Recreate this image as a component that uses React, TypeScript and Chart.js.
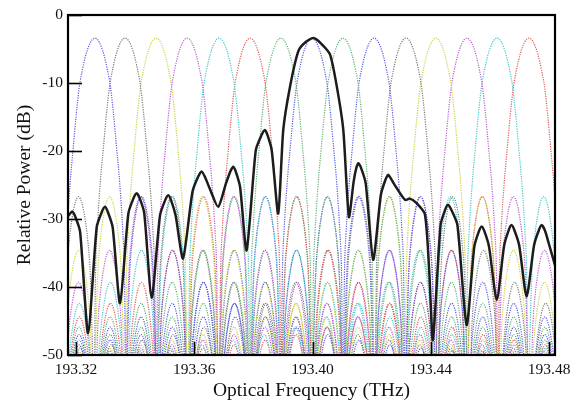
import React, { useEffect, useRef } from "react";
import { Chart, registerables } from "chart.js";

Chart.register(...registerables);

// ---------- axes ----------
const X_MIN = 193.3173;
const X_MAX = 193.482;
const Y_MIN = -50;
const Y_MAX = 0;
const xTickValues = [193.32, 193.36, 193.4, 193.44, 193.48];
const yTickValues = [-50, -40, -30, -20, -10, 0];

// ---------- channel spectra (dotted) ----------
const channelCentersTHz = [
  193.3264, 193.3366, 193.3471, 193.3576, 193.3684, 193.3789, 193.3893, 193.3998,
  193.4103, 193.4208, 193.4316, 193.4417, 193.4522, 193.4624, 193.4732,
];
const channelColors = [
  "#5a5ae0", "#7a7a7a", "#cfcf48", "#bb5ccf", "#45c6c6", "#de5a5a", "#62b077", "#5a5ae0",
  "#62b077", "#5a5ae0", "#7a7a7a", "#cfcf48", "#bb5ccf", "#45c6c6", "#de5a5a",
];
const channelSpacingGHz = 10.5;
// main lobe: offset from the channel centre (GHz) -> power (dB)
const mainLobeOffsetGHz = [0, 1.05, 2.1, 3.15, 4.2, 5.25, 6.3, 7.35, 8.4, 9.45, 10.0];
const mainLobePowerDb = [-3.4, -3.7, -4.6, -6.0, -8.0, -10.5, -14.6, -19.6, -24.8, -32.0, -38.0];
const nullPowerDb = -56; // spectral nulls fall below the -50 dB floor
// crest level of each side lobe, by order
const sideLobePeakDb = [
  -26.7, -34.6, -39.3, -42.4, -44.4, -45.9, -47.0, -47.8, -48.5, -49.0, -49.4, -49.7, -50.0,
  -50.2, -50.4, -50.6,
];
// arch of one side lobe: offset from its crest (GHz) -> drop below the crest (dB)
const sideLobeOffsetGHz = [-4.6, -4.0, -3.15, -2.1, -1.05, 0, 1.05, 2.1, 3.15, 4.0, 4.6];
const sideLobeDropDb = [-20, -11.5, -6.5, -3, -0.8, 0, -0.8, -3, -6.5, -11.5, -20];

// ---------- measured composite spectrum (black) ----------
const blackFreqTHz = [
  193.3173, 193.3187, 193.3198, 193.3214, 193.3241,
  193.327, 193.3287, 193.3298, 193.3308, 193.3324, 193.3349,
  193.3377, 193.3394, 193.3405, 193.3416, 193.3431, 193.3456,
  193.3484, 193.3501, 193.3512, 193.3522, 193.3537, 193.3562,
  193.3594, 193.3613, 193.3625, 193.3636, 193.3653, 193.3681,
  193.3707, 193.3722, 193.3732, 193.3741, 193.3755, 193.3777,
  193.3808, 193.3827, 193.3839, 193.3848, 193.3862, 193.3884,
  193.3901, 193.3924, 193.3952, 193.3976, 193.4003, 193.4029, 193.4059, 193.4082, 193.4104, 193.4123,
  193.4139, 193.4148, 193.4155, 193.4165, 193.418, 193.4205,
  193.4231, 193.4246, 193.4256, 193.4275, 193.4313, 193.4329, 193.435, 193.438, 193.4395, 193.4407,
  193.4433, 193.4448, 193.4458, 193.447, 193.449, 193.4521,
  193.4547, 193.4562, 193.4572, 193.4582, 193.4597, 193.4623,
  193.4648, 193.4663, 193.4673, 193.4683, 193.4699, 193.4724,
  193.4749, 193.4765, 193.4775, 193.4786, 193.4799, 193.482,
];
const blackPowerDb = [
  -29.6, -28.9, -29.7, -31.9, -46.8,
  -31.2, -29.0, -28.2, -29.0, -31.2, -42.4,
  -29.2, -27.0, -26.2, -27.0, -29.2, -41.6,
  -29.5, -27.3, -26.5, -27.3, -29.5, -35.8,
  -26.0, -23.8, -23.0, -23.8, -25.6, -28.2,
  -24.8, -23.0, -22.3, -23.1, -25.3, -34.6,
  -19.9, -17.7, -16.9, -17.7, -19.9, -29.2,
  -16.9, -10.5, -5.3, -4.0, -3.4, -4.2, -5.8, -10.5, -16.9, -29.7,
  -24.5, -22.5, -21.8, -22.6, -24.8, -36.0,
  -26.5, -24.3, -23.5, -24.8, -27.2, -27.0, -27.6, -29.3, -38.0, -47.8,
  -30.9, -28.7, -27.9, -28.7, -30.9, -45.6,
  -34.1, -31.9, -31.1, -31.9, -34.1, -41.9,
  -33.9, -31.7, -30.9, -31.7, -33.9, -41.4,
  -33.9, -31.7, -30.9, -31.7, -33.6, -36.8,
];

const X_TITLE = "Optical Frequency (THz)";
const Y_TITLE = "Relative Power (dB)";

// one-sided profile (offset GHz, dB) from the read values, mirrored for the other side
function buildProfile(): Array<[number, number]> {
  const side: Array<[number, number]> = [];
  mainLobeOffsetGHz.forEach((o, i) => side.push([o, mainLobePowerDb[i]]));
  side.push([channelSpacingGHz, nullPowerDb]);
  sideLobePeakDb.forEach((lvl, n) => {
    const crest = (n + 1.5) * channelSpacingGHz;
    sideLobeOffsetGHz.forEach((o, j) => side.push([crest + o, lvl + sideLobeDropDb[j]]));
    side.push([(n + 2) * channelSpacingGHz, nullPowerDb]);
  });
  const left = side
    .filter(([o]) => o > 0)
    .map(([o, p]) => [-o, p] as [number, number])
    .reverse();
  return [...left, ...side];
}

const SERIF = "'Liberation Serif', 'DejaVu Serif', 'Times New Roman', serif";

const frame = {
  id: "frameAndTicks",
  afterDraw(chart: any) {
    const { ctx, chartArea } = chart;
    const { left, right, top, bottom } = chartArea;
    const xs = chart.scales.x;
    const ys = chart.scales.y;
    ctx.save();
    ctx.strokeStyle = "#000";
    ctx.lineWidth = 1.6;
    yTickValues.forEach((v) => {
      const y = Math.round(ys.getPixelForValue(v)) + 0.5;
      ctx.beginPath();
      ctx.moveTo(left, y);
      ctx.lineTo(left + 14, y);
      ctx.stroke();
    });
    xTickValues.forEach((v) => {
      const x = Math.round(xs.getPixelForValue(v)) + 0.5;
      ctx.beginPath();
      ctx.moveTo(x, bottom);
      ctx.lineTo(x, bottom - 13);
      ctx.stroke();
    });
    ctx.lineWidth = 2.2;
    ctx.strokeRect(left, top, right - left, bottom - top);
    ctx.restore();
  },
};

export default function App() {
  const canvasRef = useRef<HTMLCanvasElement | null>(null);

  useEffect(() => {
    if (!canvasRef.current) return;
    const profile = buildProfile();
    const lo = X_MIN - 0.012;
    const hi = X_MAX + 0.012;

    const channelSets = channelCentersTHz.map((c, i) => ({
      label: `Ch ${i + 1}`,
      data: profile
        .map(([o, p]) => ({ x: c + o / 1000, y: p }))
        .filter((pt) => pt.x >= lo && pt.x <= hi),
      borderColor: channelColors[i],
      borderWidth: 1.2,
      borderDash: [1.2, 1.2],
      pointRadius: 0,
      cubicInterpolationMode: "monotone" as const,
      fill: false,
    }));

    const blackSet = {
      label: "Composite",
      data: blackFreqTHz.map((x, i) => ({ x, y: blackPowerDb[i] })),
      borderColor: "#1c1c1c",
      borderWidth: 2.5,
      pointRadius: 0,
      tension: 0.22,
      fill: false,
    };

    const chart = new Chart(canvasRef.current, {
      type: "line",
      data: { datasets: [blackSet, ...channelSets] as any },
      options: {
        responsive: false,
        animation: false,
        events: [],
        layout: { padding: { top: 15, right: 15, bottom: 0, left: 0 } },
        plugins: { legend: { display: false }, tooltip: { enabled: false } },
        scales: {
          x: {
            type: "linear",
            min: X_MIN,
            max: X_MAX,
            afterBuildTicks: (scale: any) => {
              scale.ticks = xTickValues.map((v) => ({ value: v }));
            },
            afterFit: (scale: any) => {
              scale.height = 48;
              scale.paddingLeft = 0;
              scale.paddingRight = 0;
            },
            grid: { display: false, drawTicks: false },
            border: { display: false },
            ticks: {
              autoSkip: false,
              maxRotation: 0,
              padding: 6,
              color: "#111",
              font: { family: SERIF, size: 15.5 },
              callback: (v: any) => Number(v).toFixed(2),
            },
            title: {
              display: true,
              text: X_TITLE,
              color: "#111",
              font: { family: SERIF, size: 19.5 },
              padding: { top: 0, bottom: 0 },
            },
          },
          y: {
            type: "linear",
            min: Y_MIN,
            max: Y_MAX,
            afterBuildTicks: (scale: any) => {
              scale.ticks = yTickValues.map((v) => ({ value: v }));
            },
            afterFit: (scale: any) => {
              scale.width = 68;
              scale.paddingTop = 0;
              scale.paddingBottom = 0;
            },
            grid: { display: false, drawTicks: false },
            border: { display: false },
            ticks: {
              padding: 5,
              color: "#111",
              font: { family: SERIF, size: 15.5 },
              callback: (v: any) => String(v),
            },
            title: {
              display: true,
              text: Y_TITLE,
              color: "#111",
              font: { family: SERIF, size: 19.5 },
              padding: { top: 13, bottom: 0 },
            },
          },
        },
      },
      plugins: [frame],
    });

    return () => chart.destroy();
  }, []);

  return (
    <div style={{ position: "absolute", left: 0, top: 0, width: 570, height: 403, background: "#fff" }}>
      <canvas ref={canvasRef} width={570} height={403} style={{ display: "block" }} />
    </div>
  );
}
